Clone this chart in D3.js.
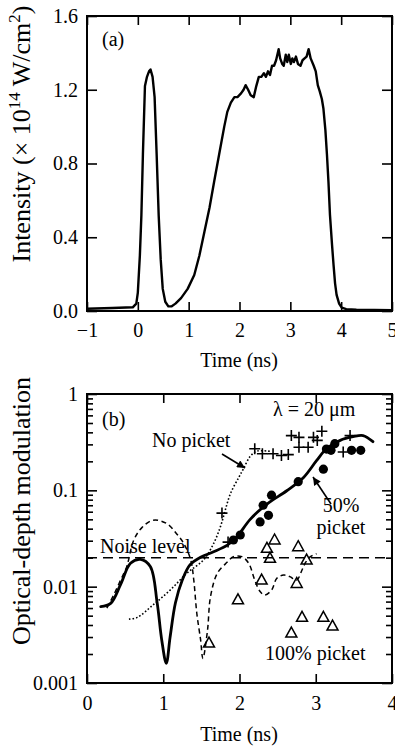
<!DOCTYPE html>
<html>
<head>
<meta charset="utf-8">
<script src="https://cdn.jsdelivr.net/npm/d3@7"></script>
<style>
  body { margin: 0; background: #fff; }
  svg text { font-family: "Liberation Serif", "Times New Roman", serif; fill: #000; }
</style>
</head>
<body>
<svg id="chart" width="395" height="748"></svg>
<script>
// ---- panel (a): laser intensity vs time
const pulseTime = [-1, -0.5, -0.1, -0.03, 0.0, 0.04, 0.07, 0.1, 0.14, 0.18, 0.22, 0.25, 0.29, 0.33, 0.37, 0.41, 0.45, 0.49, 0.54, 0.6, 0.66,
  0.74, 0.85, 0.98, 1.11, 1.21, 1.31, 1.41, 1.5, 1.6, 1.7, 1.76, 1.83, 1.9, 1.96, 2.03, 2.08, 2.12, 2.17, 2.22, 2.28, 2.33, 2.38,
  2.43, 2.48, 2.52, 2.56, 2.6, 2.64, 2.68, 2.72, 2.77, 2.8, 2.84, 2.87, 2.91, 2.94, 2.97, 3.01, 3.04, 3.07, 3.11, 3.15, 3.2, 3.24,
  3.28, 3.32, 3.36, 3.4, 3.46, 3.5, 3.54, 3.58, 3.62, 3.65, 3.69, 3.72, 3.75, 3.78, 3.82, 3.85, 3.88, 3.91, 3.96, 4.01, 4.1, 4.3, 5.0];
const pulseIntensity = [0.012, 0.016, 0.02, 0.04, 0.1, 0.3, 0.52, 0.85, 1.22, 1.27, 1.3, 1.31, 1.27, 1.16, 0.85, 0.52, 0.28, 0.12, 0.05, 0.025, 0.025,
  0.04, 0.07, 0.12, 0.195, 0.3, 0.43, 0.56, 0.7, 0.85, 1.0, 1.08, 1.13, 1.16, 1.16, 1.18, 1.2, 1.225, 1.2, 1.17, 1.16, 1.22, 1.27,
  1.27, 1.29, 1.27, 1.3, 1.28, 1.33, 1.33, 1.36, 1.42, 1.37, 1.34, 1.33, 1.39, 1.35, 1.39, 1.34, 1.37, 1.35, 1.38, 1.34, 1.33, 1.36,
  1.37, 1.38, 1.42, 1.37, 1.33, 1.3, 1.225, 1.19, 1.15, 1.1, 0.98, 0.85, 0.7, 0.52, 0.36, 0.25, 0.15, 0.087, 0.04, 0.018, 0.01, 0.007, 0.005];
const topXTicks = [-1, 0, 1, 2, 3, 4, 5];
const topYTicks = [0, 0.4, 0.8, 1.2, 1.6];

// ---- panel (b): optical-depth modulation
// 50% picket simulation (solid)
const halfSimTime = [0.18, 0.31, 0.44, 0.57, 0.7, 0.83, 0.92, 0.98, 1.04, 1.09, 1.16, 1.25, 1.35, 1.49, 1.66, 1.84, 1.96, 2.14, 2.36, 2.62, 2.84, 3.01, 3.14, 3.32, 3.49, 3.62, 3.75];
const halfSimValue = [0.0062, 0.0067, 0.0105, 0.0175, 0.0192, 0.0162, 0.0068, 0.0028, 0.0016, 0.003, 0.0068, 0.0117, 0.0168, 0.0202, 0.023, 0.027, 0.0325, 0.05, 0.072, 0.099, 0.136, 0.203, 0.27, 0.33, 0.36, 0.37, 0.32];
// no picket simulation (dotted)
const noSimTime = [0.55, 0.66, 0.87, 1.09, 1.31, 1.53, 1.66, 1.75, 1.81, 1.88, 1.99, 2.05, 2.14, 2.23, 2.4];
const noSimValue = [0.0046, 0.0048, 0.0065, 0.0092, 0.0138, 0.019, 0.028, 0.042, 0.061, 0.092, 0.136, 0.166, 0.225, 0.255, 0.254];
// 100% picket simulation (dashed)
const fullSimTime = [0.26, 0.36, 0.44, 0.52, 0.61, 0.72, 0.87, 1.05, 1.18, 1.27, 1.36, 1.4, 1.44, 1.49, 1.52, 1.58, 1.62, 1.71, 1.84, 1.92, 2.03, 2.12, 2.2, 2.27, 2.33, 2.42, 2.49, 2.58, 2.66, 2.75, 2.82, 2.86, 2.93, 3.01];
const fullSimValue = [0.006, 0.0085, 0.0117, 0.016, 0.03, 0.041, 0.049, 0.045, 0.035, 0.028, 0.019, 0.0118, 0.0053, 0.0028, 0.0018, 0.0035, 0.0079, 0.0138, 0.018, 0.0205, 0.0205, 0.0175, 0.0117, 0.0089, 0.0082, 0.0092, 0.0122, 0.0132, 0.0127, 0.0117, 0.0149, 0.0175, 0.0205, 0.022];
// measured points
const noPicketTime = [1.77, 1.85, 2.2, 2.3, 2.44, 2.55, 2.64, 2.68, 2.78, 2.78, 2.9, 2.97, 3.02, 3.08, 3.36, 3.45];
const noPicketValue = [0.058, 0.029, 0.27, 0.24, 0.24, 0.23, 0.235, 0.37, 0.355, 0.28, 0.28, 0.355, 0.33, 0.41, 0.25, 0.37];
const halfPicketTime = [1.92, 2.01, 2.27, 2.38, 2.31, 2.42, 2.77, 3.1, 3.14, 3.25, 3.2, 3.47, 3.59];
const halfPicketValue = [0.0305, 0.0344, 0.047, 0.055, 0.07, 0.089, 0.123, 0.166, 0.268, 0.305, 0.26, 0.26, 0.26];
const fullPicketTime = [1.6, 1.98, 2.29, 2.36, 2.4, 2.46, 2.68, 2.75, 2.77, 2.82, 2.88, 3.1, 3.22];
const fullPicketValue = [0.0026, 0.0073, 0.0117, 0.025, 0.0197, 0.0305, 0.0033, 0.0108, 0.026, 0.0048, 0.0189, 0.0048, 0.0039];
const noiseLevel = 0.02;
const botXTicks = [0, 1, 2, 3, 4];
const botYTicks = [0.001, 0.01, 0.1, 1];

const svg = d3.select("#chart");
const FS = 20;   // tick + annotation text
const TFS = 26;  // vertical axis titles

const zip = (a, b) => a.map((d, i) => [d, b[i]]);

// ================= panel (a)
const xA = d3.scaleLinear().domain([-1, 5]).range([87, 392]);
const yA = d3.scaleLinear().domain([0, 1.6]).range([311, 16]);
const gA = svg.append("g");

gA.append("g")
  .attr("transform", "translate(0,311)")
  .call(d3.axisBottom(xA).tickValues(topXTicks).tickSize(-9).tickSizeOuter(0).tickPadding(12).tickFormat(d3.format("d")))
  .call(g => g.select(".domain").remove());
gA.append("g")
  .attr("transform", "translate(0,16)")
  .call(d3.axisTop(xA).tickValues(topXTicks).tickSize(-9).tickSizeOuter(0).tickFormat(""))
  .call(g => g.select(".domain").remove());
gA.append("g")
  .attr("transform", "translate(87,0)")
  .call(d3.axisLeft(yA).tickValues(topYTicks).tickSize(-10).tickSizeOuter(0).tickPadding(9).tickFormat(d3.format(".1f")))
  .call(g => g.select(".domain").remove());
gA.append("g")
  .attr("transform", "translate(392,0)")
  .call(d3.axisRight(yA).tickValues(topYTicks).tickSize(-10).tickSizeOuter(0).tickFormat(""))
  .call(g => g.select(".domain").remove());

gA.append("rect").attr("x", 87).attr("y", 16).attr("width", 305).attr("height", 295)
  .attr("fill", "none").attr("stroke", "#000").attr("stroke-width", 2);

gA.append("path")
  .datum(zip(pulseTime, pulseIntensity))
  .attr("fill", "none").attr("stroke", "#000").attr("stroke-width", 2.4).attr("stroke-linejoin", "round")
  .attr("d", d3.line().x(d => xA(d[0])).y(d => yA(d[1])));

gA.append("text").attr("x", 102).attr("y", 46).attr("font-size", FS).text("(a)");
gA.append("text").attr("x", 239).attr("y", 367).attr("text-anchor", "middle").attr("font-size", FS).text("Time (ns)");
const yTitleA = gA.append("text").attr("transform", "translate(30,134) rotate(-90)")
  .attr("text-anchor", "middle").attr("font-size", TFS);
yTitleA.append("tspan").text("Intensity (\u00d7 10");
yTitleA.append("tspan").attr("dy", -10).attr("font-size", 17).text("14");
yTitleA.append("tspan").attr("dy", 10).text(" W/cm");
yTitleA.append("tspan").attr("dy", -10).attr("font-size", 17).text("2");
yTitleA.append("tspan").attr("dy", 10).text(")");

// ================= panel (b)
const xB = d3.scaleLinear().domain([0, 4]).range([87, 392]);
const yB = d3.scaleLog().domain([0.001, 1]).range([683, 394]);
const gB = svg.append("g");

const minorTicks = [];
[0.001, 0.01, 0.1].forEach(dec => { for (let k = 2; k <= 9; k++) minorTicks.push(dec * k); });

gB.append("g")
  .attr("transform", "translate(0,683)")
  .call(d3.axisBottom(xB).tickValues(botXTicks).tickSize(-9).tickSizeOuter(0).tickPadding(13).tickFormat(d3.format("d")))
  .call(g => g.select(".domain").remove());
gB.append("g")
  .attr("transform", "translate(0,394)")
  .call(d3.axisTop(xB).tickValues(botXTicks).tickSize(-9).tickSizeOuter(0).tickFormat(""))
  .call(g => g.select(".domain").remove());
gB.append("g")
  .attr("transform", "translate(87,0)")
  .call(d3.axisLeft(yB).tickValues(botYTicks).tickSize(-10).tickSizeOuter(0).tickPadding(9).tickFormat(d3.format("~g")))
  .call(g => g.select(".domain").remove());
gB.append("g")
  .attr("transform", "translate(87,0)")
  .call(d3.axisLeft(yB).tickValues(minorTicks).tickSize(-6).tickSizeOuter(0).tickFormat(""))
  .call(g => g.select(".domain").remove());
gB.append("g")
  .attr("transform", "translate(392,0)")
  .call(d3.axisRight(yB).tickValues(botYTicks).tickSize(-10).tickSizeOuter(0).tickFormat(""))
  .call(g => g.select(".domain").remove());
gB.append("g")
  .attr("transform", "translate(392,0)")
  .call(d3.axisRight(yB).tickValues(minorTicks).tickSize(-6).tickSizeOuter(0).tickFormat(""))
  .call(g => g.select(".domain").remove());

svg.selectAll(".tick line").attr("stroke-width", 1.6);
svg.selectAll(".tick text").attr("font-size", FS).attr("font-family", "Liberation Serif, Times New Roman, serif");

gB.append("rect").attr("x", 87).attr("y", 394).attr("width", 305).attr("height", 289)
  .attr("fill", "none").attr("stroke", "#000").attr("stroke-width", 2);

// noise level
gB.append("line")
  .attr("x1", xB(0)).attr("x2", xB(4)).attr("y1", yB(noiseLevel)).attr("y2", yB(noiseLevel))
  .attr("stroke", "#000").attr("stroke-width", 1.5).attr("stroke-dasharray", "10,6");

const lineB = d3.line().x(d => xB(d[0])).y(d => yB(d[1])).curve(d3.curveCatmullRom.alpha(0.5));

gB.append("path").datum(zip(fullSimTime, fullSimValue))
  .attr("fill", "none").attr("stroke", "#000").attr("stroke-width", 1.5).attr("stroke-dasharray", "5,3.5")
  .attr("d", lineB);
gB.append("path").datum(zip(noSimTime, noSimValue))
  .attr("fill", "none").attr("stroke", "#000").attr("stroke-width", 1.6).attr("stroke-dasharray", "1.6,2")
  .attr("d", lineB);
gB.append("path").datum(zip(halfSimTime, halfSimValue))
  .attr("fill", "none").attr("stroke", "#000").attr("stroke-width", 2.8).attr("stroke-linecap", "round")
  .attr("d", lineB);

// markers
gB.selectAll("path.plus").data(zip(noPicketTime, noPicketValue)).enter()
  .append("path").attr("class", "plus")
  .attr("transform", d => `translate(${xB(d[0])},${yB(d[1])})`)
  .attr("d", "M-5.5,0H5.5M0,-5.5V5.5")
  .attr("stroke", "#000").attr("stroke-width", 1.6);
gB.selectAll("circle.half").data(zip(halfPicketTime, halfPicketValue)).enter()
  .append("circle").attr("class", "half")
  .attr("cx", d => xB(d[0])).attr("cy", d => yB(d[1])).attr("r", 4.6).attr("fill", "#000");
gB.selectAll("path.tri").data(zip(fullPicketTime, fullPicketValue)).enter()
  .append("path").attr("class", "tri")
  .attr("transform", d => `translate(${xB(d[0])},${yB(d[1])})`)
  .attr("d", "M0,-6L5.5,4L-5.5,4Z")
  .attr("fill", "none").attr("stroke", "#000").attr("stroke-width", 1.5).attr("stroke-linejoin", "miter");

// arrows
const defs = svg.append("defs");
defs.append("marker").attr("id", "arrow").attr("viewBox", "0 0 10 10")
  .attr("refX", 10).attr("refY", 5).attr("markerWidth", 9).attr("markerHeight", 8)
  .attr("markerUnits", "userSpaceOnUse").attr("orient", "auto")
  .append("path").attr("d", "M0,0L10,5L0,10Z").attr("fill", "#000");
gB.append("line").attr("x1", 222).attr("y1", 454).attr("x2", 245).attr("y2", 468)
  .attr("stroke", "#000").attr("stroke-width", 1.6).attr("marker-end", "url(#arrow)");
gB.append("line").attr("x1", 331).attr("y1", 504).attr("x2", 313).attr("y2", 477)
  .attr("stroke", "#000").attr("stroke-width", 1.6).attr("marker-end", "url(#arrow)");

// labels
gB.append("text").attr("x", 102).attr("y", 426).attr("font-size", FS).text("(b)");
gB.append("text").attr("x", 273).attr("y", 416).attr("font-size", FS).text("\u03bb = 20 \u03bcm");
gB.append("text").attr("x", 152).attr("y", 447).attr("font-size", FS).text("No picket");
gB.append("text").attr("x", 341).attr("y", 512).attr("text-anchor", "middle").attr("font-size", FS).text("50%");
gB.append("text").attr("x", 341).attr("y", 534).attr("text-anchor", "middle").attr("font-size", FS).text("picket");
gB.append("text").attr("x", 100).attr("y", 553).attr("font-size", FS).text("Noise level");
gB.append("text").attr("x", 265).attr("y", 660).attr("font-size", FS).text("100% picket");
gB.append("text").attr("x", 239).attr("y", 741).attr("text-anchor", "middle").attr("font-size", FS).text("Time (ns)");
gB.append("text").attr("transform", "translate(30,511) rotate(-90)")
  .attr("text-anchor", "middle").attr("font-size", TFS).text("Optical-depth modulation");
</script>
</body>
</html>
